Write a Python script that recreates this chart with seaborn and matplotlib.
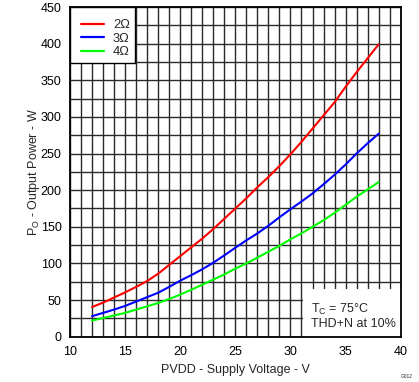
import numpy as np
import pandas as pd
import matplotlib
matplotlib.use("Agg")
import matplotlib.pyplot as plt
import seaborn as sns
from matplotlib.patches import Rectangle

voltage = list(range(12, 39))
p_2ohm = [40.5, 46.5, 53.5, 60.5, 68, 76, 86, 98, 110, 122, 134, 147, 161, 175, 189,
          204, 218, 233, 249, 266, 284, 302, 320, 341, 361, 380, 399]
p_3ohm = [28, 32.5, 37, 42, 48, 54, 60, 68, 76.5, 84, 92, 101, 111, 121.5, 131.5,
          141, 151.5, 163, 174, 184.5, 195.5, 208, 221, 235, 250, 264, 277]
p_4ohm = [22, 25.5, 29, 32.5, 37, 41.5, 46, 51.5, 57.5, 64, 71, 78, 85, 93, 100,
          108, 116, 124, 133, 141, 150, 159, 169, 180, 191, 201, 211]
labels = ["2Ω", "3Ω", "4Ω"]
colors = ["#ff0000", "#0000ff", "#00ff00"]
x_ticks = [10, 15, 20, 25, 30, 35, 40]
y_ticks = [0, 50, 100, 150, 200, 250, 300, 350, 400, 450]

df = pd.concat([
    pd.DataFrame({"V": voltage, "P": vals, "Load": lab})
    for vals, lab in zip([p_2ohm, p_3ohm, p_4ohm], labels)
])

sns.set_style("white")
plt.rcParams["font.family"] = ["Liberation Sans", "DejaVu Sans"]

W, H = 419, 382
fig = plt.figure(figsize=(W / 100, H / 100), dpi=100)
ax_l, ax_r, ax_t, ax_b = 70, 400.7, 7, 336.7
ax = fig.add_axes([ax_l / W, 1 - ax_b / H, (ax_r - ax_l) / W, (ax_b - ax_t) / H])
aw, ah = ax_r - ax_l, ax_b - ax_t

sns.lineplot(data=df, x="V", y="P", hue="Load", palette=dict(zip(labels, colors)),
             linewidth=1.5, ax=ax, legend=False, zorder=3)

ax.set_xlim(10, 40)
ax.set_ylim(0, 450)
ax.set_xticks(x_ticks)
ax.set_yticks(y_ticks)
ax.set_xticks(np.arange(10, 41, 1), minor=True)
ax.set_yticks(np.arange(0, 451, 25), minor=True)
ax.grid(True, which="both", color="#2a2a2a", linewidth=1.0, zorder=1)
ax.set_axisbelow(True)
ax.tick_params(which="both", length=0, labelsize=9, colors="black")
ax.tick_params(axis="y", pad=6)
ax.tick_params(axis="x", pad=7)
for s in ax.spines.values():
    s.set_color("black")
    s.set_linewidth(1.3)
    s.set_zorder(5)

ax.set_xlabel("PVDD - Supply Voltage - V", fontsize=9, labelpad=4)
ax.set_ylabel("P$_\\mathregular{O}$ - Output Power - W", fontsize=9, labelpad=-1)

# annotation box
ax.add_patch(Rectangle((31.1, 0), 40 - 31.1, 64.5, facecolor="white",
                       edgecolor="none", zorder=2))
ax.text(31.9, 37, "T$_\\mathregular{C}$ = 75°C", fontsize=9, va="center", zorder=4)
ax.text(31.9, 17, "THD+N at 10%", fontsize=9, va="center", zorder=4)

# legend box
ax.add_patch(Rectangle((0, 1 - 56 / ah), 65 / aw, 56 / ah, transform=ax.transAxes,
                       facecolor="white", edgecolor="black", linewidth=1.0,
                       zorder=6, clip_on=False))
handles = [plt.Line2D([], [], color=c, linewidth=1.6) for c in colors]
leg = ax.legend(handles, labels, loc="upper left",
                bbox_to_anchor=((81 - ax_l) / aw, 1 - (19 - ax_t) / ah),
                borderaxespad=0, borderpad=0, fontsize=9.3, frameon=False,
                handlelength=1.76, handletextpad=0.72, labelspacing=0.12)
leg.set_zorder(7)

fig.text(0.985, 0.008, "G012", fontsize=3.5, ha="right", va="bottom")

fig.savefig("out.png", dpi=100)
